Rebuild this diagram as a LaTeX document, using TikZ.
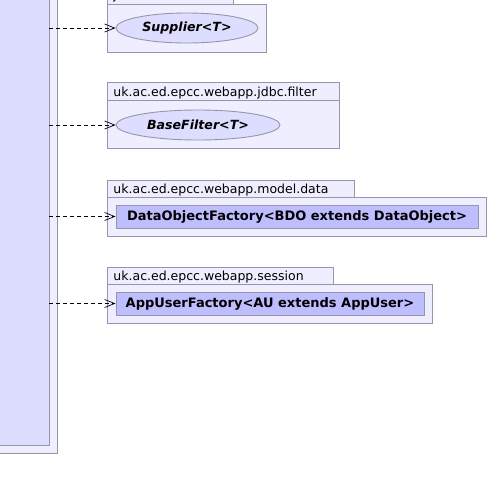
\documentclass[tikz,border=0pt]{standalone}
\usepackage{fontspec}
\setsansfont{DejaVu Sans}
\usetikzlibrary{arrows.meta,shapes.geometric}
\definecolor{umlline}{RGB}{150,150,170}
\definecolor{umlpkg}{RGB}{238,238,255}
\definecolor{umlcls}{RGB}{221,221,255}
\definecolor{umlbox}{RGB}{190,190,255}

\begin{document}
\begin{tikzpicture}[x=1pt,y=-1pt,line width=0.9pt,>={Straight Barb[length=10pt,width=8pt]},
  pkgbox/.style={draw=umlline,fill=umlpkg},
  pkgtext/.style={anchor=base west,font=\sffamily\fontsize{12.5}{14}\selectfont,inner sep=0pt},
  ifacenode/.style={ellipse,draw=umlline,fill=umlcls,inner sep=0pt,
    font=\sffamily\bfseries\itshape\fontsize{12.6}{14}\selectfont},
  clsnode/.style={draw=umlline,fill=umlbox,inner sep=0pt,
    font=\sffamily\bfseries\fontsize{13}{15}\selectfont},
  dep/.style={draw=black,line width=0.7pt,dash pattern=on 4pt off 3pt,->}]
  \useasboundingbox (0,0) rectangle (489,491);
  % left package and its class
  \draw[pkgbox] (-3,-3) rectangle (57,453);
  \node[draw=umlline,fill=umlcls,minimum width=52pt,minimum height=448pt] (user) at (23,221.5) {};
  % java.util.function
  \draw[pkgbox] (107,-20) rectangle (233,4);
  \node[pkgtext] (supname) at (113,-1) {java.util.function};
  \draw[pkgbox] (107,4) rectangle (266,52);
  \node[ifacenode,minimum width=142pt,minimum height=30pt] (sup) at (187,28) {Supplier<T>};
  % jdbc.filter
  \draw[pkgbox] (107,82) rectangle (339,100);
  \node[pkgtext] (filname) at (113,96) {uk.ac.ed.epcc.webapp.jdbc.filter};
  \draw[pkgbox] (107,100) rectangle (339,148);
  \node[ifacenode,minimum width=164pt,minimum height=30pt] (filt) at (198,125) {BaseFilter<T>};
  % model.data
  \draw[pkgbox] (107,180) rectangle (354,197);
  \node[pkgtext] (datname) at (113,193) {uk.ac.ed.epcc.webapp.model.data};
  \draw[pkgbox] (107,197) rectangle (486,236);
  \node[clsnode,minimum width=362pt,minimum height=23pt] (dof) at (297,216.5) {DataObjectFactory<BDO extends DataObject>};
  % session
  \draw[pkgbox] (107,267) rectangle (333,284);
  \node[pkgtext] (sesname) at (113,280) {uk.ac.ed.epcc.webapp.session};
  \draw[pkgbox] (107,284) rectangle (432,323);
  \node[clsnode,minimum width=308pt,minimum height=23pt] (auf) at (270,303.5) {AppUserFactory<AU extends AppUser>};
  % dependencies
  \draw[dep] (user.east |- sup) -- (sup);
  \draw[dep] (user.east |- filt) -- (filt);
  \draw[dep] (user.east |- dof) -- (dof);
  \draw[dep] (user.east |- auf) -- (auf);
\end{tikzpicture}
\end{document}
